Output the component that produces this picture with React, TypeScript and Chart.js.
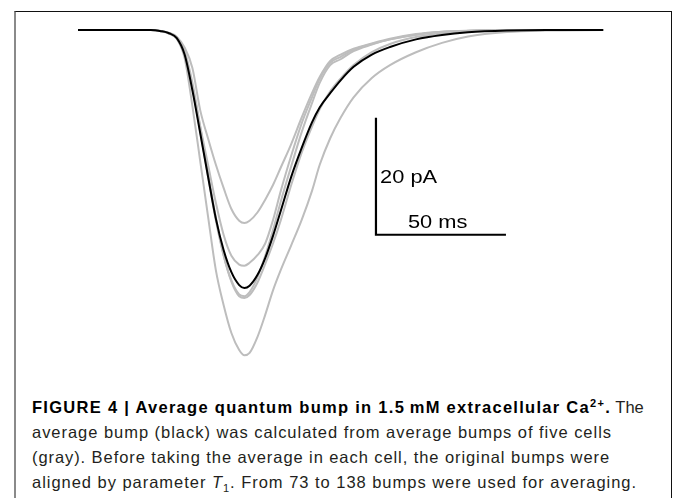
import React, { useEffect, useLayoutEffect, useRef } from "react";
import { Chart, registerables } from "chart.js";

Chart.register(...registerables);

// time axis (ms)
const timeMs = [0, 20, 28, 32, 35, 38, 41, 44, 47, 50, 53, 56, 59, 62, 64, 66, 69, 72, 75, 78, 82, 86, 90, 93, 97, 101, 106, 113, 120, 130, 140, 150, 165, 180, 202];

// current (pA) for the average bump (black)
const averageBump = [0, 0, 0, -0.2, -0.55, -1.4, -4.2, -10.3, -17.6, -25, -32.2, -37.6, -41.4, -43.6, -44.1, -43.7, -41.9, -39, -35.2, -30.9, -25.1, -20.2, -15.8, -13.2, -10.8, -8.6, -6.3, -4.2, -2.9, -1.6, -0.85, -0.4, -0.1, 0, 0];

// average bumps of five cells (gray)
const cell1 = [0, 0, 0, -0.2, -0.5, -1.2, -3.0, -6.5, -13.7, -18.5, -23, -27, -30.6, -32.6, -33, -32.6, -31.2, -29, -26.5, -23.5, -19.5, -15, -10.8, -8, -5.3, -4.2, -3.2, -2.3, -1.5, -0.7, -0.3, -0.15, 0, 0, 0];
const cell2 = [0, 0, 0, -0.2, -0.55, -1.4, -4.2, -9.8, -16.5, -23, -29.5, -35, -38.6, -40.1, -40.3, -39.8, -38.5, -36.5, -32.5, -27.5, -21.5, -16, -11.5, -8.3, -5.6, -4.6, -3.4, -2.4, -1.6, -0.8, -0.3, -0.1, 0, 0, 0];
const cell3 = [0, 0, 0, -0.2, -0.6, -1.5, -4.3, -10, -17.3, -25, -32.5, -38.5, -42.8, -45.2, -45.5, -44.8, -42.3, -38.6, -34.2, -29.3, -23.3, -17.5, -12.5, -9, -6, -5, -3.6, -2.5, -1.6, -0.8, -0.35, -0.15, 0, 0, 0];
const cell4 = [0, 0, 0, -0.15, -0.5, -1.2, -3.6, -9, -16.5, -24.5, -32, -38.5, -43, -45.5, -45.8, -45.3, -43.2, -40, -36.5, -32.5, -26.5, -21, -16.5, -13.5, -10.5, -8.3, -6, -3.8, -2.4, -1.2, -0.6, -0.25, -0.05, 0, 0];
const cell5 = [0, 0, 0, -0.2, -0.6, -1.5, -4.8, -13, -22.4, -31.8, -41, -47, -51.8, -54.7, -55.6, -55.2, -52.5, -48.7, -44.5, -41, -36.8, -32.5, -27.5, -23, -18.5, -15, -11.5, -8.2, -6, -3.8, -2.2, -1.1, -0.35, -0.1, 0];
const cells = [cell1, cell2, cell3, cell4, cell5];

// scale bar (20 pA, 50 ms)
const scaleBarMs = [114.6, 114.6, 164.6];
const scaleBarPA = [-15, -35, -35];
const scaleLabels = ["20 pA", "50 ms"];
const scaleLabelMs = [116.2, 126.9];
const scaleLabelPA = [-25.3, -33.0];

const toXY = (xs: number[], ys: number[]) => xs.map((x, i) => ({ x, y: ys[i] }));

const labelPlugin = {
  id: "scaleLabels",
  afterDatasetsDraw(chart: any) {
    const { ctx, scales } = chart;
    ctx.save();
    ctx.fillStyle = "#000";
    ctx.font = "17.6px 'Liberation Sans', Arial, sans-serif";
    ctx.textBaseline = "middle";
    ctx.textAlign = "left";
    scaleLabels.forEach((txt, i) => {
      const px = scales.x.getPixelForValue(scaleLabelMs[i]);
      const py = scales.y.getPixelForValue(scaleLabelPA[i]);
      ctx.save();
      ctx.translate(px, py);
      ctx.scale(1.24, 1);
      ctx.fillText(txt, 0, 0);
      ctx.restore();
    });
    ctx.restore();
  },
};

export default function App() {
  const ref = useRef<HTMLCanvasElement>(null);
  const boldRef = useRef<HTMLSpanElement>(null);
  const l2 = useRef<HTMLSpanElement>(null);
  const l3 = useRef<HTMLSpanElement>(null);
  const l4 = useRef<HTMLSpanElement>(null);

  useLayoutEffect(() => {
    const fit = () => {
      const items: [HTMLElement | null, number][] = [
        [boldRef.current, 579],
        [l2.current, 580],
        [l3.current, 578],
        [l4.current, 605],
      ];
      items.forEach(([el, target]) => {
        if (!el) return;
        el.style.letterSpacing = "0px";
        const w = el.getBoundingClientRect().width;
        const n = (el.textContent || "").length;
        el.style.letterSpacing = ((target - w) / n).toFixed(3) + "px";
      });
    };
    fit();
    if ((document as any).fonts && (document as any).fonts.ready) {
      (document as any).fonts.ready.then(fit);
    }
  }, []);

  useEffect(() => {
    if (!ref.current) return;
    const datasets: any[] = [
      {
        data: toXY(timeMs, averageBump),
        borderColor: "#000000",
        borderWidth: 2,
      },
      {
        data: toXY(scaleBarMs, scaleBarPA),
        borderColor: "#000000",
        borderWidth: 2.2,
        cubicInterpolationMode: "default",
        tension: 0,
      },
      ...cells.map((c) => ({
        data: toXY(timeMs, c),
        borderColor: "#bdbdbd",
        borderWidth: 2,
      })),
    ];
    const chart = new Chart(ref.current, {
      type: "line",
      data: { datasets },
      options: {
        animation: false,
        responsive: false,
        maintainAspectRatio: false,
        events: [],
        layout: { padding: 0 },
        elements: {
          point: { radius: 0 },
          line: { cubicInterpolationMode: "monotone", fill: false },
        },
        plugins: { legend: { display: false }, tooltip: { enabled: false } },
        scales: {
          x: { type: "linear", min: -30, max: 228.846, display: false },
          y: { type: "linear", min: -58.12, max: 5.128, display: false },
        },
      },
      plugins: [labelPlugin],
    });
    return () => chart.destroy();
  }, []);

  const captionLine: React.CSSProperties = { whiteSpace: "nowrap", height: 25 };
  return (
    <div style={{ position: "fixed", left: 0, top: 0, width: 673, height: 498, background: "#fff", overflow: "hidden" }}>
      <div
        style={{
          position: "absolute",
          left: 14,
          top: 11,
          width: 658,
          height: 520,
          boxSizing: "border-box",
          borderTop: "1px solid #111",
          borderLeft: "2px solid #8a8a8a",
          borderRight: "1px solid #111",
        }}
      />
      <canvas ref={ref} width={673} height={370} style={{ position: "absolute", left: 0, top: 0, width: 673, height: 370 }} />
      <div
        style={{
          position: "absolute",
          left: 32,
          top: 395,
          fontFamily: "'Liberation Sans', Arial, sans-serif",
          fontSize: 16.5,
          lineHeight: "25px",
          color: "#231f20",
        }}
      >
        <div style={captionLine}>
          <b ref={boldRef} style={{ color: "#000" }}>
            FIGURE 4 | Average quantum bump in 1.5{"\u2009"}mM extracellular Ca
            <sup style={{ fontSize: 11, lineHeight: 0 }}>2+</sup>.
          </b>
          <span> The</span>
        </div>
        <div style={captionLine}>
          <span ref={l2}>average bump (black) was calculated from average bumps of five cells</span>
        </div>
        <div style={captionLine}>
          <span ref={l3}>(gray). Before taking the average in each cell, the original bumps were</span>
        </div>
        <div style={captionLine}>
          <span ref={l4}>
            aligned by parameter <i>T</i>
            <sub style={{ fontSize: 11, lineHeight: 0 }}>1</sub>. From 73 to 138 bumps were used for averaging.
          </span>
        </div>
      </div>
    </div>
  );
}
